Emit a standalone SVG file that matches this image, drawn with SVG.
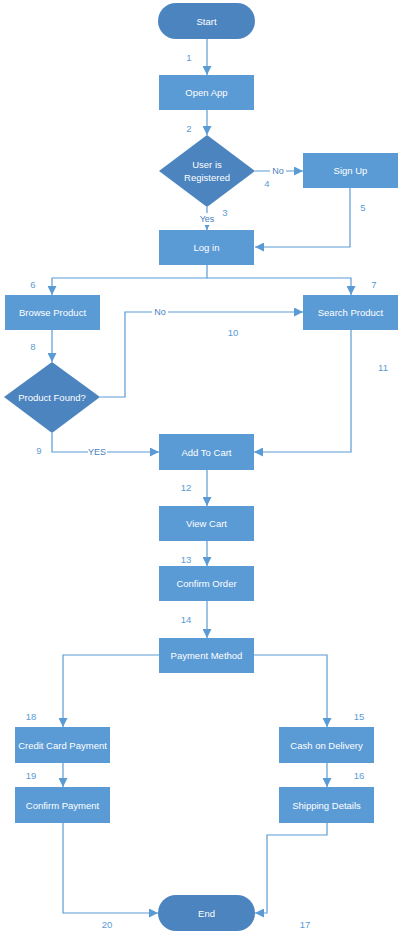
<svg xmlns="http://www.w3.org/2000/svg" width="404" height="939" viewBox="0 0 404 939">
  <style>
    .term { fill: #4b84bf; }
    .proc { fill: #5b9bd5; }
    .dec { fill: #4b84bf; }
    .lbl { font-family: "Liberation Sans", Arial, sans-serif; font-size: 9.5px; fill: #ffffff; text-anchor: middle; dominant-baseline: central; }
    .num { font-family: "Liberation Sans", Arial, sans-serif; font-size: 9.5px; fill: #5b9bd5; text-anchor: middle; dominant-baseline: central; }
    .cond { font-family: "Liberation Sans", Arial, sans-serif; font-size: 9px; fill: #4a7ebb; text-anchor: middle; dominant-baseline: central; }
    .edge { fill: none; stroke: #5b9bd5; stroke-width: 1.2; }
    .bg { fill: #ffffff; }
  </style>
  <defs>
    <marker id="arrow" viewBox="0 0 10 10" refX="10" refY="5" markerUnits="userSpaceOnUse" markerWidth="9" markerHeight="9" orient="auto">
      <path d="M0,0 L10,5 L0,10 z" fill="#5b9bd5"/>
    </marker>
  </defs>
  <rect width="404" height="939" fill="#ffffff"/>

  <!-- connectors -->
  <g id="connectors">
    <path class="edge" d="M207,39 V75" marker-end="url(#arrow)"/>
    <path class="edge" d="M207,110 V135" marker-end="url(#arrow)"/>
    <path class="edge" d="M207,207 V230" marker-end="url(#arrow)"/>
    <path class="edge" d="M255,171 H303" marker-end="url(#arrow)"/>
    <path class="edge" d="M350,188 V247 H255" marker-end="url(#arrow)"/>
    <path class="edge" d="M207,265 V278 H52 V295" marker-end="url(#arrow)"/>
    <path class="edge" d="M207,278 H351 V295" marker-end="url(#arrow)"/>
    <path class="edge" d="M52,330 V362" marker-end="url(#arrow)"/>
    <path class="edge" d="M100,397 H125 V312 H303" marker-end="url(#arrow)"/>
    <path class="edge" d="M52,433 V452 H159" marker-end="url(#arrow)"/>
    <path class="edge" d="M351,330 V452 H254" marker-end="url(#arrow)"/>
    <path class="edge" d="M207,470 V506" marker-end="url(#arrow)"/>
    <path class="edge" d="M207,541 V566" marker-end="url(#arrow)"/>
    <path class="edge" d="M207,601 V638" marker-end="url(#arrow)"/>
    <path class="edge" d="M159,655 H63 V727" marker-end="url(#arrow)"/>
    <path class="edge" d="M254,655 H327 V727" marker-end="url(#arrow)"/>
    <path class="edge" d="M63,763 V787" marker-end="url(#arrow)"/>
    <path class="edge" d="M327,763 V787" marker-end="url(#arrow)"/>
    <path class="edge" d="M63,823 V913 H158" marker-end="url(#arrow)"/>
    <path class="edge" d="M327,823 V835 H267 V913 H255" marker-end="url(#arrow)"/>

    <!-- branch labels -->
    <rect class="bg" x="270" y="165" width="16" height="12"/>
    <text class="cond" x="278" y="171">No</text>
    <rect class="bg" x="198" y="213" width="18" height="12"/>
    <text class="cond" x="207" y="219">Yes</text>
    <rect class="bg" x="152" y="306" width="16" height="12"/>
    <text class="cond" x="160" y="312">No</text>
    <rect class="bg" x="88" y="446" width="19" height="12"/>
    <text class="cond" x="97" y="452">YES</text>

    <!-- step numbers -->
    <text class="num" x="189" y="57">1</text>
    <text class="num" x="189" y="128">2</text>
    <text class="num" x="225" y="212">3</text>
    <text class="num" x="267" y="183">4</text>
    <text class="num" x="363" y="207">5</text>
    <text class="num" x="33" y="284">6</text>
    <text class="num" x="374" y="284">7</text>
    <text class="num" x="33" y="346">8</text>
    <text class="num" x="39" y="450">9</text>
    <text class="num" x="233" y="332">10</text>
    <text class="num" x="383" y="367">11</text>
    <text class="num" x="186" y="487">12</text>
    <text class="num" x="186" y="559">13</text>
    <text class="num" x="186" y="619">14</text>
    <text class="num" x="359" y="716">15</text>
    <text class="num" x="359" y="775">16</text>
    <text class="num" x="305" y="924">17</text>
    <text class="num" x="31" y="716">18</text>
    <text class="num" x="31" y="775">19</text>
    <text class="num" x="107" y="924">20</text>
  </g>

  <!-- nodes -->
  <g id="start">
    <rect class="term" x="158" y="3" width="97" height="36" rx="18"/>
    <text class="lbl" x="206.5" y="21">Start</text>
  </g>
  <g id="open-app">
    <rect class="proc" x="159" y="75" width="95" height="35"/>
    <text class="lbl" x="206.5" y="92.5">Open App</text>
  </g>
  <g id="user-registered">
    <polygon class="dec" points="207,135 255,171 207,207 159,171"/>
    <text class="lbl" x="207" y="164">User is</text>
    <text class="lbl" x="207" y="177">Registered</text>
  </g>
  <g id="sign-up">
    <rect class="proc" x="303" y="153" width="95" height="35"/>
    <text class="lbl" x="350.5" y="170.5">Sign Up</text>
  </g>
  <g id="log-in">
    <rect class="proc" x="159" y="230" width="95" height="35"/>
    <text class="lbl" x="206.5" y="247.5">Log in</text>
  </g>
  <g id="browse-product">
    <rect class="proc" x="5" y="295" width="95" height="35"/>
    <text class="lbl" x="52.5" y="312.5">Browse Product</text>
  </g>
  <g id="search-product">
    <rect class="proc" x="303" y="295" width="95" height="35"/>
    <text class="lbl" x="350.5" y="312.5">Search Product</text>
  </g>
  <g id="product-found">
    <polygon class="dec" points="52,362 100,397 52,433 4,397"/>
    <text class="lbl" x="52" y="397">Product Found?</text>
  </g>
  <g id="add-to-cart">
    <rect class="proc" x="159" y="434" width="95" height="36"/>
    <text class="lbl" x="206.5" y="452">Add To Cart</text>
  </g>
  <g id="view-cart">
    <rect class="proc" x="159" y="506" width="95" height="35"/>
    <text class="lbl" x="206.5" y="523.5">View Cart</text>
  </g>
  <g id="confirm-order">
    <rect class="proc" x="159" y="566" width="95" height="35"/>
    <text class="lbl" x="206.5" y="583.5">Confirm Order</text>
  </g>
  <g id="payment-method">
    <rect class="proc" x="159" y="638" width="95" height="35"/>
    <text class="lbl" x="206.5" y="655.5">Payment Method</text>
  </g>
  <g id="credit-card-payment">
    <rect class="proc" x="15" y="727" width="95" height="36"/>
    <text class="lbl" x="62.5" y="745">Credit Card Payment</text>
  </g>
  <g id="confirm-payment">
    <rect class="proc" x="15" y="787" width="95" height="36"/>
    <text class="lbl" x="62.5" y="805">Confirm Payment</text>
  </g>
  <g id="cash-on-delivery">
    <rect class="proc" x="279" y="727" width="95" height="36"/>
    <text class="lbl" x="326.5" y="745">Cash on Delivery</text>
  </g>
  <g id="shipping-details">
    <rect class="proc" x="279" y="787" width="95" height="36"/>
    <text class="lbl" x="326.5" y="805">Shipping Details</text>
  </g>
  <g id="end">
    <rect class="term" x="158" y="895" width="97" height="36" rx="18"/>
    <text class="lbl" x="206.5" y="913">End</text>
  </g>
</svg>
